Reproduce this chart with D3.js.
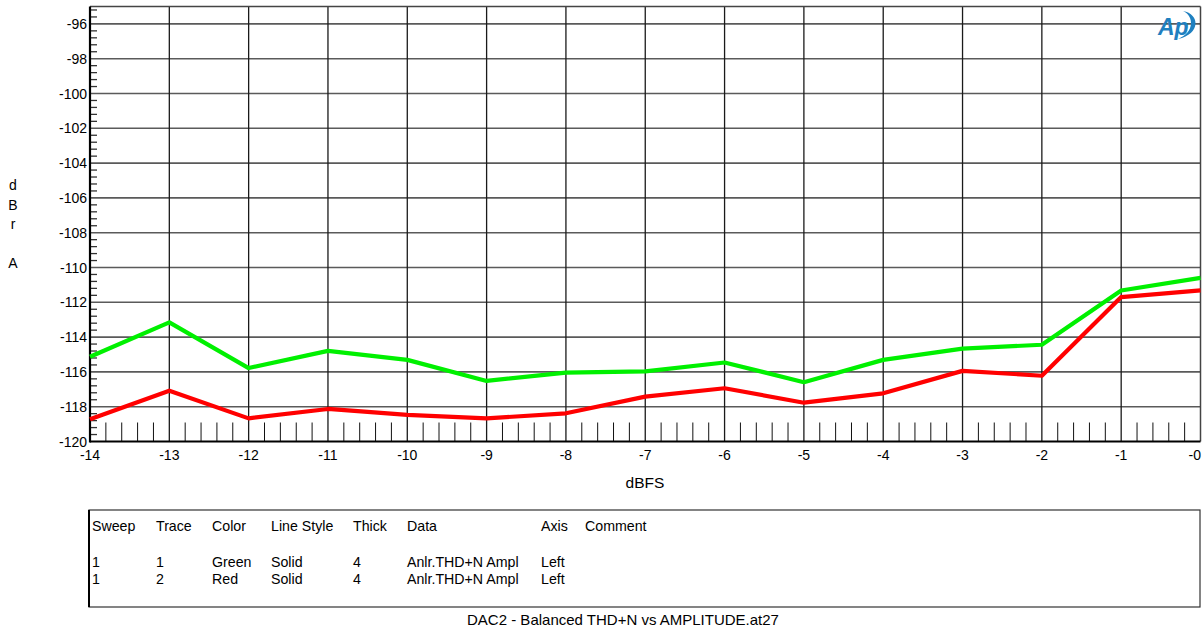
<!DOCTYPE html>
<html>
<head>
<meta charset="utf-8">
<script src="https://cdn.jsdelivr.net/npm/d3@7"></script>
<style>
  body { margin: 0; background: #fff; }
  svg { display: block; font-family: "Liberation Sans", Arial, sans-serif; }
</style>
</head>
<body>
<svg id="chart" width="1202" height="629"></svg>
<script>
// x positions of the sweep (dBFS)
const xValues = [-14, -13, -12, -11, -10, -9, -8, -7, -6, -5, -4, -3, -2, -1, 0];
// trace 1 (green) and trace 2 (red), dBr A
const greenValues = [-115.13, -113.15, -115.78, -114.79, -115.31, -116.52, -116.04, -115.97, -115.46, -116.59, -115.31, -114.66, -114.44, -111.32, -110.6];
const redValues = [-118.72, -117.08, -118.67, -118.13, -118.47, -118.67, -118.38, -117.42, -116.94, -117.77, -117.23, -115.94, -116.22, -111.7, -111.31];

const yTicks = [-96, -98, -100, -102, -104, -106, -108, -110, -112, -114, -116, -118, -120];
const xTicks = [-14, -13, -12, -11, -10, -9, -8, -7, -6, -5, -4, -3, -2, -1, 0];
const xTickLabels = ["-14", "-13", "-12", "-11", "-10", "-9", "-8", "-7", "-6", "-5", "-4", "-3", "-2", "-1", "-0"];

const legendHeader = ["Sweep", "Trace", "Color", "Line Style", "Thick", "Data", "Axis", "Comment"];
const legendRows = [
	["1", "1", "Green", "Solid", "4", "Anlr.THD+N Ampl", "Left", ""],
	["1", "2", "Red", "Solid", "4", "Anlr.THD+N Ampl", "Left", ""]
];
const traceColors = ["#00f000", "#ff0000"];

const svg = d3.select("#chart");

const plotLeft = 90, plotRight = 1200.5, plotTop = 6.5, plotBottom = 441.5;

const xScale = d3.scaleLinear()
	.domain([-14, 0])
	.range([plotLeft, plotRight]);

const yScale = d3.scaleLinear()
	.domain([-120, -95])
	.range([plotBottom, plotTop]);

// Grid lines
const grid = svg.append("g");

grid.selectAll(".hgrid")
	.data(yTicks.filter(d => d > -120))
	.enter()
	.append("line")
		.attr("x1", plotLeft)
		.attr("x2", plotRight)
		.attr("y1", d => yScale(d))
		.attr("y2", d => yScale(d))
		.attr("stroke", "#5a5a5a")
		.attr("stroke-width", 1.6);

grid.selectAll(".vgrid")
	.data(xTicks.filter(d => d > -14 && d < 0))
	.enter()
	.append("line")
		.attr("x1", d => xScale(d))
		.attr("x2", d => xScale(d))
		.attr("y1", plotTop)
		.attr("y2", plotBottom)
		.attr("stroke", "#1a1a1a")
		.attr("stroke-width", 1.3);

// Minor ticks on the x axis (every 0.2)
const xMinor = d3.range(-14, 0.001, 0.2).filter(d => Math.abs(d - Math.round(d)) > 0.01);
grid.selectAll(".xminor")
	.data(xMinor)
	.enter()
	.append("line")
		.attr("x1", d => xScale(d))
		.attr("x2", d => xScale(d))
		.attr("y1", plotBottom - 19)
		.attr("y2", plotBottom)
		.attr("stroke", "#111")
		.attr("stroke-width", 1);

// Minor ticks on the y axis (every 0.4)
const yMinor = d3.range(-120, -95, 0.4).filter(d => Math.abs(d / 2 - Math.round(d / 2)) > 0.01);
grid.selectAll(".yminor")
	.data(yMinor)
	.enter()
	.append("line")
		.attr("x1", plotLeft)
		.attr("x2", plotLeft + 7)
		.attr("y1", d => yScale(d))
		.attr("y2", d => yScale(d))
		.attr("stroke", "#333")
		.attr("stroke-width", 1.3);

// Frame
svg.append("line")
	.attr("x1", plotLeft).attr("x2", plotRight)
	.attr("y1", plotTop).attr("y2", plotTop)
	.attr("stroke", "#444").attr("stroke-width", 1.5);
svg.append("line")
	.attr("x1", plotRight).attr("x2", plotRight)
	.attr("y1", plotTop).attr("y2", plotBottom)
	.attr("stroke", "#444").attr("stroke-width", 1.5);
svg.append("line")
	.attr("x1", plotLeft).attr("x2", plotLeft)
	.attr("y1", plotTop).attr("y2", plotBottom + 1)
	.attr("stroke", "#000").attr("stroke-width", 2.2);
svg.append("line")
	.attr("x1", plotLeft).attr("x2", plotRight)
	.attr("y1", plotBottom).attr("y2", plotBottom)
	.attr("stroke", "#000").attr("stroke-width", 2.2);

// Tick labels
svg.append("g")
	.selectAll("text")
	.data(yTicks)
	.enter()
	.append("text")
		.attr("x", plotLeft - 3)
		.attr("y", d => yScale(d))
		.attr("dy", "0.36em")
		.attr("text-anchor", "end")
		.attr("font-size", 14)
		.attr("fill", "#000")
		.text(d => d);

// last label sits at the right edge, keep it inside
svg.append("g")
	.selectAll("text")
	.data(xTicks)
	.enter()
	.append("text")
		.attr("x", d => d == 0 ? 1201 : xScale(d))
		.attr("y", 460)
		.attr("text-anchor", d => d == 0 ? "end" : "middle")
		.attr("font-size", 14)
		.attr("fill", "#000")
		.text((d, i) => xTickLabels[i]);

// Axis titles
svg.append("text")
	.attr("x", 645)
	.attr("y", 488)
	.attr("text-anchor", "middle")
	.attr("font-size", 15.5)
	.text("dBFS");

const yTitle = ["d", "B", "r", "", "A"];
svg.append("g")
	.selectAll("text")
	.data(yTitle)
	.enter()
	.append("text")
		.attr("x", 13)
		.attr("y", (d, i) => 190 + i * 19.5)
		.attr("text-anchor", "middle")
		.attr("font-size", 14)
		.text(d => d);

// Traces
const line = d3.line()
	.x((d, i) => xScale(xValues[i]))
	.y(d => yScale(d));

const plot = svg.append("g");
[redValues, greenValues].forEach((vals, k) => {
	plot.append("path")
		.attr("d", line(vals))
		.attr("fill", "none")
		.attr("stroke", k == 0 ? traceColors[1] : traceColors[0])
		.attr("stroke-width", 4.2)
		.attr("stroke-linejoin", "round");
});

// Ap logo
const logo = svg.append("g").attr("fill", "#1f80c0");
logo.append("text")
	.attr("x", 1158)
	.attr("y", 35)
	.attr("font-size", 23)
	.attr("font-style", "italic")
	.attr("font-weight", "bold")
	.text("Ap");
logo.append("path")
	.attr("d", "M1183,11 C1200,14 1201,34 1178,39 C1195,32 1194,16 1183,11 Z");

// Legend table
const legend = svg.append("g");
legend.append("rect")
	.attr("x", 89)
	.attr("y", 510)
	.attr("width", 1111)
	.attr("height", 97)
	.attr("fill", "none")
	.attr("stroke", "#333")
	.attr("stroke-width", 1.2);
legend.append("line")
	.attr("x1", 89).attr("x2", 89)
	.attr("y1", 510).attr("y2", 607)
	.attr("stroke", "#000").attr("stroke-width", 2);

const colX = [92, 156, 212, 271, 353, 407, 541, 585];

legend.selectAll(".hdr")
	.data(legendHeader)
	.enter()
	.append("text")
		.attr("x", (d, i) => colX[i])
		.attr("y", 531)
		.attr("font-size", 14.2)
		.text(d => d);

legendRows.forEach((row, r) => {
	legend.selectAll(".row" + r)
		.data(row)
		.enter()
		.append("text")
			.attr("x", (d, i) => colX[i])
			.attr("y", 567 + r * 17)
			.attr("font-size", 14.2)
			.text(d => d);
});

// Caption
svg.append("text")
	.attr("x", 623)
	.attr("y", 625)
	.attr("text-anchor", "middle")
	.attr("font-size", 15)
	.text("DAC2 - Balanced THD+N vs AMPLITUDE.at27");
</script>
</body>
</html>
